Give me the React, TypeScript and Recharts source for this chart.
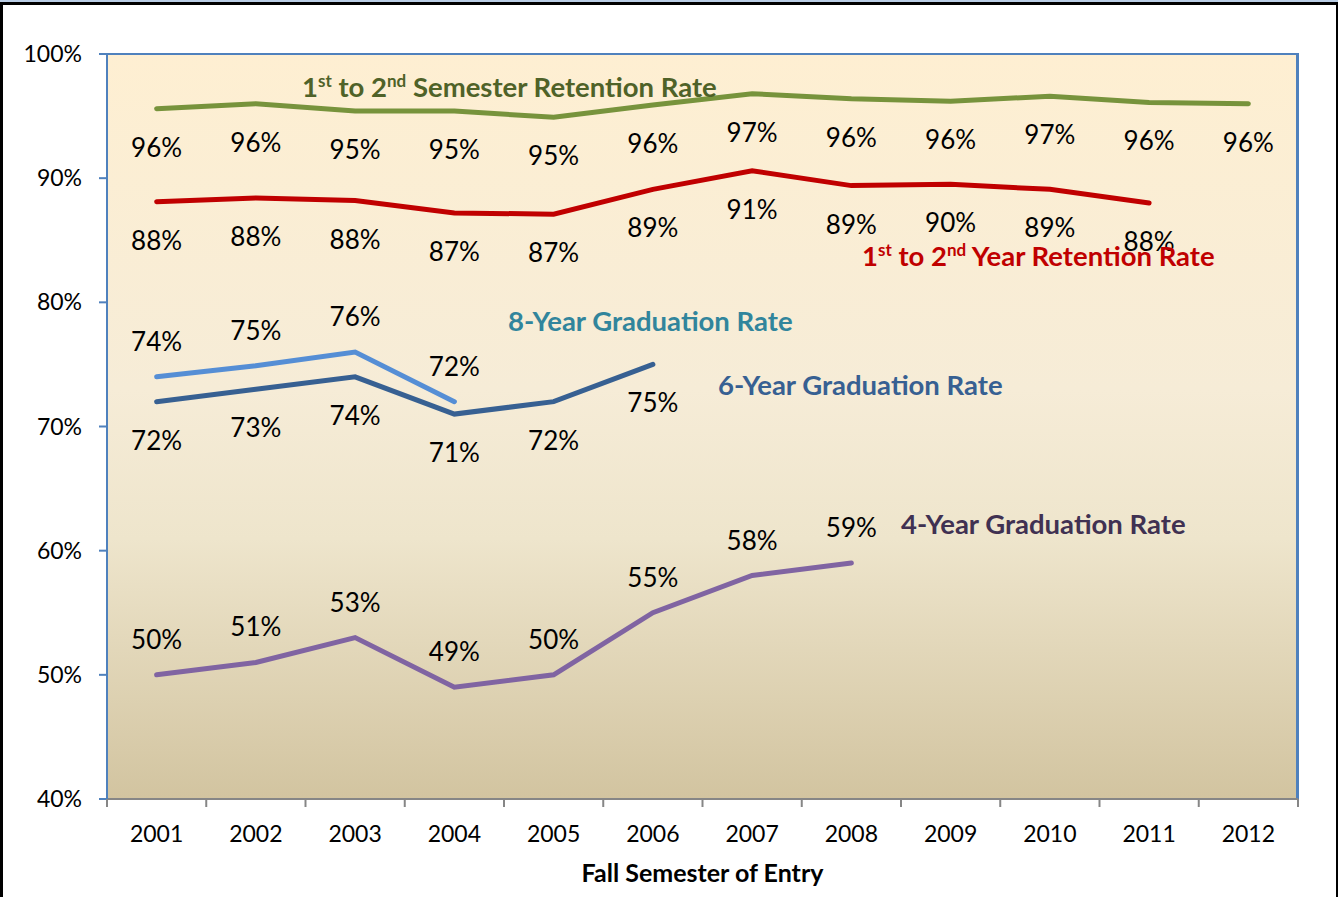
import { LineChart, Line, XAxis, YAxis, LabelList } from "recharts";

const years = ["2001", "2002", "2003", "2004", "2005", "2006", "2007", "2008", "2009", "2010", "2011", "2012"];
const semesterRetention = [95.6, 96.0, 95.4, 95.4, 94.9, 95.9, 96.8, 96.4, 96.2, 96.6, 96.1, 96.0];
const yearRetention = [88.1, 88.4, 88.2, 87.2, 87.1, 89.1, 90.6, 89.4, 89.5, 89.1, 88.0, null];
const grad8 = [74.0, 74.9, 76.0, 72.0, null, null, null, null, null, null, null, null];
const grad6 = [72.0, 73.0, 74.0, 71.0, 72.0, 75.0, null, null, null, null, null, null];
const grad4 = [50, 51, 53, 49, 50, 55, 58, 59, null, null, null, null];
const yTicks = [40, 50, 60, 70, 80, 90, 100];

const data = years.map((year, i) => ({
  year,
  sem: semesterRetention[i],
  yr: yearRetention[i],
  g8: grad8[i],
  g6: grad6[i],
  g4: grad4[i],
}));

const W = 1338;
const H = 897;
const PLOT_L = 107;
const PLOT_T = 54;
const PLOT_R = 1298;
const PLOT_B = 799;
const BW = (PLOT_R - PLOT_L) / years.length;
const FONT = "Lato, 'Open Sans', sans-serif";

const pointLabel = (offset: number) => (props: any) => {
  const { x, y, value } = props;
  if (value == null) return null;
  return (
    <text
      x={x}
      y={y + offset}
      textAnchor="middle"
      dominantBaseline="central"
      fontSize={26}
      fontFamily={FONT}
      fill="#000"
    >
      {Math.round(value)}%
    </text>
  );
};

const XTick = (props: any) => {
  const { x, payload } = props;
  const last = payload.value === years[years.length - 1];
  return (
    <g>
      <line x1={x - BW / 2} x2={x - BW / 2} y1={PLOT_B} y2={PLOT_B + 8} stroke="#868686" strokeWidth={2} />
      {last && <line x1={x + BW / 2} x2={x + BW / 2} y1={PLOT_B} y2={PLOT_B + 8} stroke="#868686" strokeWidth={2} />}
      <text x={x} y={833} textAnchor="middle" dominantBaseline="central" fontSize={23} fontFamily={FONT} fill="#000">
        {payload.value}
      </text>
    </g>
  );
};

const Title = ({ left, top, color, children }: any) => (
  <div
    style={{
      position: "absolute",
      left,
      top,
      transform: "translateY(-50%)",
      color,
      fontFamily: FONT,
      fontWeight: 700,
      fontSize: 27.5,
      whiteSpace: "nowrap",
      lineHeight: 1,
    }}
  >
    {children}
  </div>
);

const sup = { fontSize: 17, verticalAlign: "super", lineHeight: 0 } as const;

export default function App() {
  return (
    <div style={{ position: "relative", width: W, height: H, background: "#fff", overflow: "hidden" }}>
      <style>{`body{margin:0}`}</style>
      <div style={{ position: "absolute", left: 0, top: 0, width: W, height: 2, background: "#B9CDE5" }} />
      <div
        style={{
          position: "absolute",
          left: 0,
          top: 2,
          width: W,
          height: H,
          boxSizing: "border-box",
          borderTop: "3px solid #000",
          borderLeft: "3px solid #000",
          borderRight: "2px solid #000",
        }}
      />
      <div
        style={{
          position: "absolute",
          left: PLOT_L,
          top: PLOT_T - 1,
          width: PLOT_R - PLOT_L + 1,
          height: PLOT_B - PLOT_T + 1,
          boxSizing: "border-box",
          borderTop: "2px solid #4F81BD",
          borderRight: "3px solid #4F81BD",
          background: "linear-gradient(to bottom, #FEEFD2 0%, #F6ECD7 45%, #EEE5CC 65%, #D2C4A0 100%)",
        }}
      />
      <div style={{ position: "absolute", left: 0, top: 0 }}>
        <LineChart width={W} height={H} data={data} margin={{ top: PLOT_T, right: W - PLOT_R, left: 0, bottom: 0 }}>
          <XAxis
            dataKey="year"
            scale="band"
            height={H - PLOT_B}
            axisLine={{ stroke: "#868686", strokeWidth: 2 }}
            tickLine={false}
            tick={<XTick />}
            interval={0}
            label={{
              value: "Fall Semester of Entry",
              position: "insideBottom",
              offset: 15,
              style: { fontFamily: FONT, fontWeight: 700, fontSize: 25, fill: "#000" },
            }}
          />
          <YAxis
            width={PLOT_L}
            domain={[40, 100]}
            ticks={yTicks}
            tickFormatter={(v: number) => `${v}%`}
            axisLine={{ stroke: "#4F81BD", strokeWidth: 2 }}
            tickLine={{ stroke: "#4F81BD", strokeWidth: 2 }}
            tickSize={8}
            tickMargin={17}
            tick={{ fontSize: 23, fontFamily: FONT, fill: "#000" }}
          />
          <Line dataKey="sem" stroke="#77933C" strokeWidth={5} dot={false} isAnimationActive={false} strokeLinecap="round">
            <LabelList dataKey="sem" content={pointLabel(38)} />
          </Line>
          <Line dataKey="yr" stroke="#C00000" strokeWidth={5} dot={false} isAnimationActive={false} strokeLinecap="round">
            <LabelList dataKey="yr" content={pointLabel(38)} />
          </Line>
          <Line dataKey="g8" stroke="#558ED5" strokeWidth={5} dot={false} isAnimationActive={false} strokeLinecap="round">
            <LabelList dataKey="g8" content={pointLabel(-36)} />
          </Line>
          <Line dataKey="g6" stroke="#376092" strokeWidth={5} dot={false} isAnimationActive={false} strokeLinecap="round">
            <LabelList dataKey="g6" content={pointLabel(38)} />
          </Line>
          <Line dataKey="g4" stroke="#8064A2" strokeWidth={5} dot={false} isAnimationActive={false} strokeLinecap="round">
            <LabelList dataKey="g4" content={pointLabel(-36)} />
          </Line>
        </LineChart>
      </div>
      <Title left={302} top={87} color="#4F6228">
        1<span style={sup}>st</span> to 2<span style={sup}>nd</span> Semester Retention Rate
      </Title>
      <Title left={862} top={256} color="#C00000">
        1<span style={sup}>st</span> to 2<span style={sup}>nd</span> Year Retention Rate
      </Title>
      <Title left={508} top={321} color="#31859C">
        8-Year Graduation Rate
      </Title>
      <Title left={718} top={385} color="#376092">
        6-Year Graduation Rate
      </Title>
      <Title left={901} top={524} color="#403152">
        4-Year Graduation Rate
      </Title>
    </div>
  );
}
